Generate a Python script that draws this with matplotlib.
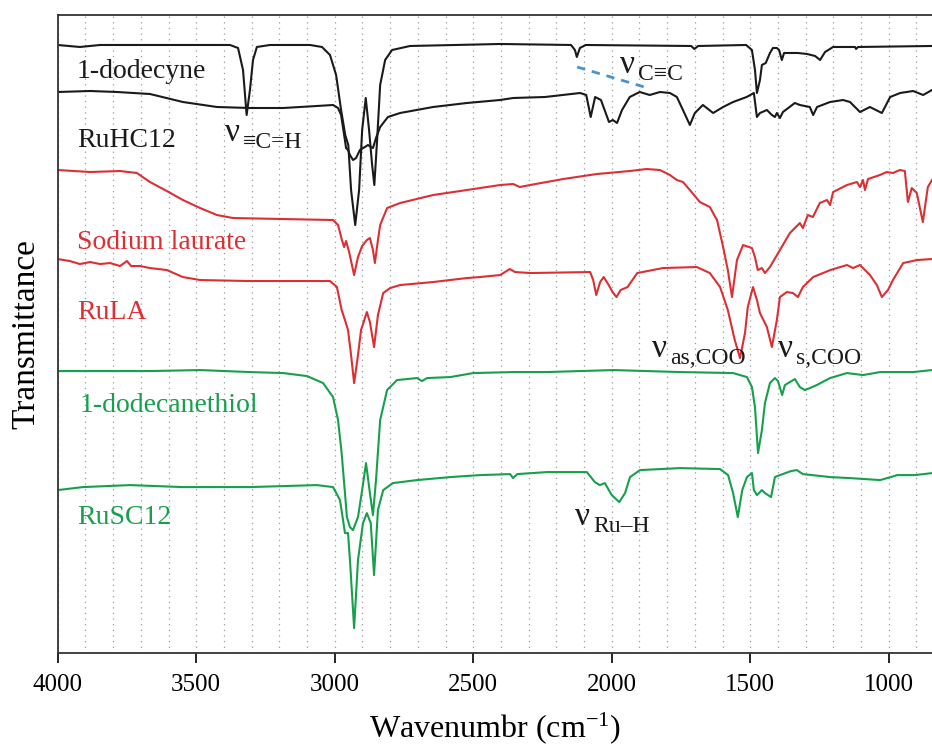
import numpy as np
import matplotlib
matplotlib.use("Agg")
import matplotlib.pyplot as plt
from matplotlib.transforms import offset_copy

plt.rcParams['font.family'] = ['Liberation Serif', 'DejaVu Serif']
plt.rcParams['mathtext.fontset'] = 'custom'
plt.rcParams['mathtext.rm'] = 'Liberation Serif'
plt.rcParams['mathtext.it'] = 'Liberation Serif'

# wavenumber (cm-1) and transmittance (a.u., offset)
dodecyne_wn = [4000, 3920, 3847, 3667, 3378, 3349, 3331, 3318, 3306, 3295, 3281, 3234, 3089, 3046,
               3017, 2995, 2977, 2962, 2951, 2941, 2926, 2912, 2901, 2888, 2876, 2865, 2857, 2847,
               2836, 2818, 2793, 2728, 2403, 2147, 2133, 2126, 2115, 2094, 1713, 1702, 1688, 1515,
               1494, 1483, 1476, 1465, 1458, 1444, 1429, 1418, 1404, 1396, 1386, 1378, 1357, 1328,
               1295, 1266, 1248, 1230, 1201, 1122, 1118, 1111, 844]
dodecyne_t = [608, 606, 608, 608, 608, 605, 583, 538, 563, 593, 606, 608, 608, 606,
              598, 578, 543, 518, 508, 463, 428, 463, 523, 555, 523, 488, 468, 513,
              568, 593, 603, 607, 609, 608, 603, 596, 605, 608, 607, 604, 607, 608,
              603, 583, 560, 573, 588, 590, 600, 605, 605, 603, 593, 600, 600, 600,
              599, 597, 593, 601, 606, 606, 604, 606, 607]

ruhc12_wn = [4000, 3883, 3786, 3667, 3548, 3425, 3306, 3186, 3065, 3006, 2988, 2977, 2966, 2959,
             2952, 2945, 2934, 2923, 2909, 2891, 2880, 2869, 2862, 2851, 2836, 2808, 2764, 2645,
             2523, 2403, 2356, 2241, 2114, 2092, 2076, 2060, 2039, 2010, 1996, 1981, 1963, 1935,
             1899, 1863, 1826, 1790, 1765, 1743, 1718, 1700, 1671, 1634, 1598, 1562, 1513, 1487,
             1476, 1465, 1440, 1422, 1411, 1404, 1393, 1382, 1339, 1321, 1285, 1273, 1259, 1212,
             1165, 1140, 1104, 1068, 1025, 995, 959, 912, 876, 844]
ruhc12_t = [561, 562, 561, 559, 551, 546, 545, 545, 547, 548, 545, 538, 518, 505,
            503, 498, 493, 495, 503, 506, 508, 506, 505, 515, 526, 536, 540, 546,
            550, 553, 555, 556, 560, 558, 536, 556, 553, 531, 533, 530, 543, 556,
            561, 558, 561, 560, 556, 543, 528, 540, 548, 540, 546, 551, 556, 560,
            536, 540, 543, 538, 536, 540, 535, 541, 550, 548, 546, 538, 546, 551,
            553, 551, 541, 546, 540, 556, 560, 562, 558, 563]

laurate_wn = [4000, 3883, 3775, 3714, 3667, 3606, 3548, 3486, 3425, 3367, 3186, 3006, 2988, 2974,
              2966, 2959, 2948, 2930, 2916, 2901, 2884, 2873, 2862, 2855, 2844, 2836, 2811, 2764,
              2645, 2523, 2403, 2356, 2332, 2295, 2175, 2054, 1935, 1874, 1826, 1790, 1765, 1743,
              1718, 1682, 1646, 1620, 1598, 1581, 1566, 1548, 1526, 1494, 1483, 1473, 1458, 1447,
              1429, 1393, 1357, 1321, 1310, 1292, 1274, 1249, 1223, 1212, 1201, 1151, 1115, 1104,
              1093, 1086, 1075, 1032, 1007, 985, 960, 942, 931, 917, 899, 877, 859, 844]
laurate_t = [483, 481, 482, 480, 471, 462, 453, 445, 438, 435, 434, 433, 428, 413,
             406, 412, 401, 378, 396, 407, 413, 415, 403, 390, 413, 428, 445, 450,
             458, 463, 468, 469, 466, 468, 474, 479, 482, 484, 483, 478, 473, 471,
             463, 451, 446, 433, 406, 383, 356, 393, 408, 405, 396, 383, 385, 380,
             386, 403, 420, 430, 425, 438, 436, 450, 453, 448, 461, 468, 471, 466,
             473, 463, 474, 478, 481, 480, 483, 482, 451, 465, 460, 431, 466, 473]

rula_wn = [4000, 3956, 3920, 3883, 3847, 3811, 3775, 3750, 3735, 3703, 3667, 3606, 3548, 3486,
           3306, 3017, 2992, 2975, 2963, 2952, 2941, 2930, 2916, 2905, 2884, 2873, 2858, 2844,
           2825, 2800, 2764, 2645, 2523, 2476, 2403, 2368, 2349, 2295, 2078, 2067, 2056, 2042,
           2029, 2011, 1997, 1983, 1968, 1943, 1908, 1815, 1693, 1646, 1609, 1581, 1556, 1537,
           1519, 1509, 1490, 1476, 1465, 1440, 1422, 1404, 1393, 1368, 1346, 1328, 1310, 1273,
           1211, 1151, 1129, 1104, 1068, 1043, 1025, 1003, 985, 948, 898, 844]
rula_t = [394, 392, 389, 391, 389, 390, 387, 392, 387, 387, 385, 383, 376, 373,
          372, 372, 366, 343, 333, 323, 298, 270, 298, 323, 341, 331, 306, 338,
          360, 365, 368, 371, 375, 376, 378, 384, 381, 380, 381, 373, 358, 371,
          376, 368, 361, 356, 363, 366, 380, 385, 386, 380, 366, 343, 313, 295,
          320, 346, 366, 353, 340, 326, 306, 333, 356, 361, 360, 356, 366, 376,
          383, 388, 385, 388, 378, 368, 356, 363, 373, 390, 393, 394]

thiol_wn = [4000, 3667, 3486, 3306, 3186, 3100, 3042, 3006, 2988, 2975, 2963, 2956, 2945, 2934,
            2916, 2901, 2887, 2873, 2862, 2851, 2836, 2811, 2775, 2703, 2685, 2667, 2583, 2500,
            2356, 2234, 1994, 1753, 1562, 1512, 1494, 1483, 1472, 1458, 1447, 1429, 1411, 1400,
            1385, 1375, 1357, 1339, 1321, 1303, 1285, 1260, 1212, 1151, 1093, 1031, 912, 844]
thiol_t = [282, 282, 283, 281, 280, 277, 270, 256, 233, 200, 160, 136, 126, 123,
           136, 163, 190, 160, 138, 173, 233, 263, 273, 275, 272, 275, 276, 280,
           281, 281, 283, 281, 280, 276, 266, 246, 200, 223, 250, 270, 275, 272,
           258, 268, 271, 274, 266, 263, 265, 268, 275, 280, 278, 281, 281, 283]

rusc12_wn = [4000, 3909, 3739, 3548, 3306, 3065, 3006, 2981, 2970, 2963, 2952, 2945, 2930, 2916,
             2898, 2884, 2870, 2858, 2844, 2825, 2790, 2703, 2583, 2475, 2367, 2356, 2341, 2234,
             2090, 2061, 2043, 2025, 2000, 1973, 1952, 1934, 1898, 1753, 1609, 1580, 1562, 1545,
             1529, 1512, 1494, 1487, 1476, 1458, 1447, 1425, 1411, 1393, 1353, 1332, 1310, 1212,
             1140, 1031, 969, 905, 844]
rusc12_t = [163, 166, 168, 166, 166, 168, 166, 153, 133, 120, 120, 93, 25, 93,
            130, 140, 130, 78, 143, 163, 170, 173, 176, 178, 179, 175, 179, 181,
            181, 171, 168, 170, 158, 151, 160, 176, 183, 185, 184, 178, 160, 136,
            163, 176, 180, 163, 158, 163, 160, 156, 176, 178, 182, 183, 179, 176,
            175, 173, 178, 178, 180]

black, red, green = '#1a1a1a', '#dc2f34', '#16a04c'
spectra = [
    (dodecyne_wn, dodecyne_t, black),
    (ruhc12_wn, ruhc12_t, black),
    (laurate_wn, laurate_t, red),
    (rula_wn, rula_t, red),
    (thiol_wn, thiol_t, green),
    (rusc12_wn, rusc12_t, green),
]

fig = plt.figure(figsize=(9.32, 7.49), dpi=100)
ax = fig.add_axes([0.0619, 0.128, 0.9381, 0.852])

for wn, t, c in spectra:
    ax.plot(wn, t, color=c, lw=1.5, solid_joinstyle='round')

# C≡C guide line
ax.plot([2125, 1870], [586, 565], color='#4a92cc', lw=2, ls=(0, (3, 2.5)))

ax.set_xlim(4000, 844)
ax.set_ylim(0, 638)
ax.set_xticks([4000, 3500, 3000, 2500, 2000, 1500, 1000])
ax.set_xticks(np.arange(900, 4000, 100), minor=True)
ax.set_yticks([])
ax.grid(which='both', axis='x', color='#9a9a9a', lw=0.9, ls=(0, (1, 3.5)))
ax.tick_params(axis='x', which='major', direction='out', length=7, width=1.2,
               labelsize=18, pad=8)
ax.tick_params(axis='x', which='minor', length=0)
for s in ['left', 'bottom', 'top']:
    ax.spines[s].set_linewidth(1.3)
    ax.spines[s].set_color('#333333')
ax.spines['right'].set_visible(False)

ax.set_xlabel('Wavenumbr (cm$^{-1}$)', fontsize=23, labelpad=10)
ax.set_ylabel('Transmittance', fontsize=24, labelpad=12)

lab = dict(fontsize=20, va='center', ha='left')
ax.text(3930, 581, '1-dodecyne', color=black, **lab)
ax.text(3930, 513, 'RuHC12', color=black, **lab)
ax.text(3930, 411, 'Sodium laurate', color=red, **lab)
ax.text(3930, 341, 'RuLA', color=red, **lab)
ax.text(3920, 248, '1-dodecanethiol', color=green, **lab)
ax.text(3930, 136, 'RuSC12', color=green, **lab)


def nu_label(x, y, sub):
    # big nu followed by a smaller subscript
    ax.text(x, y, '\u03bd', fontsize=24, va='baseline', ha='left', color=black)
    tr = offset_copy(ax.transData, fig=fig, x=13, y=-5, units='points')
    ax.text(x, y, sub, fontsize=17, va='baseline', ha='left', color=black,
            transform=tr)


nu_label(3395, 512, '\u2261C=H')
nu_label(1970, 580, 'C\u2261C')
nu_label(1854, 296, 'as,COO')
nu_label(1400, 296, 's,COO')
nu_label(2132, 128, 'Ru\u2013H')

fig.savefig('out.png', dpi=100)
